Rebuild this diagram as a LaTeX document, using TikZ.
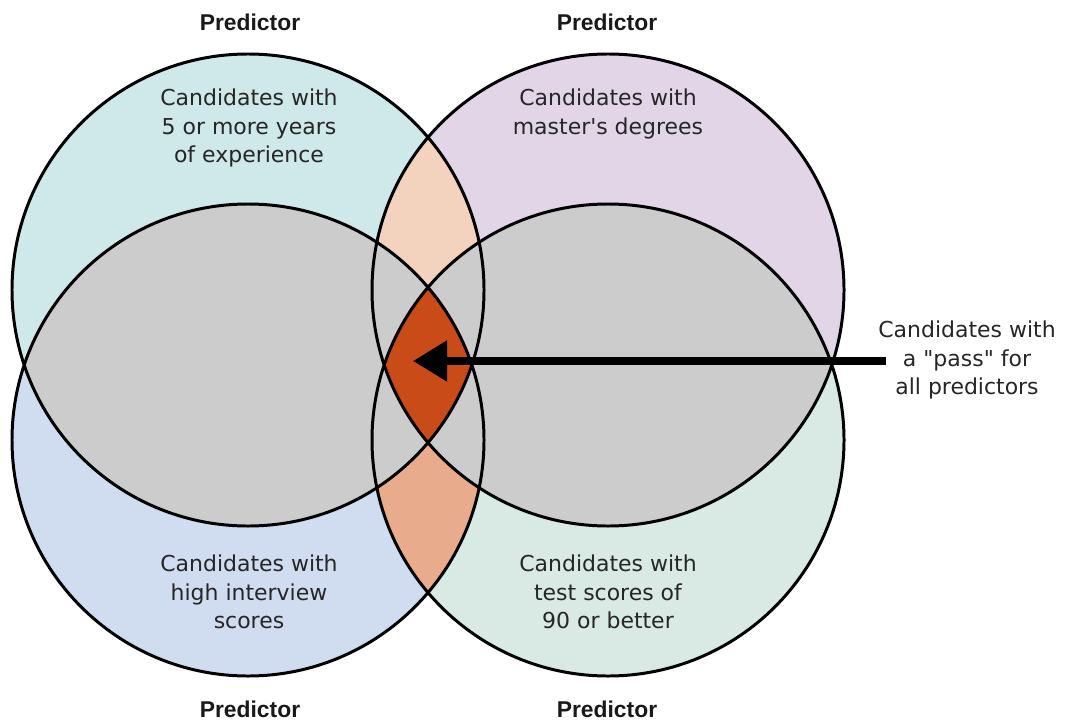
\documentclass[tikz,border=0pt]{standalone}
\usepackage{fontspec}
\setmainfont{DejaVu Sans}
\newfontfamily\headfont{Liberation Sans}
\usetikzlibrary{arrows.meta}
\definecolor{tealc}{HTML}{CFE8E9}
\definecolor{purplec}{HTML}{E3D5E8}
\definecolor{bluec}{HTML}{D0DCF0}
\definecolor{greenc}{HTML}{D9E9E3}
\definecolor{grayc}{HTML}{CCCCCC}
\definecolor{peachl}{HTML}{F4D3BE}
\definecolor{peachd}{HTML}{E8AC8C}
\definecolor{orangec}{HTML}{C84B18}
\newcommand\venrad{4.72}

\begin{document}
\begin{tikzpicture}[
        circ/.style={draw=black, line width=1.7pt},
        lbl/.style={align=center, text=black!85, font=\fontsize{12.5}{16.2}\selectfont},
        head/.style={text=black!90, inner sep=0.5pt, font=\headfont\bfseries\fontsize{13}{15}\selectfont},
        passarrow/.style={line width=4.5pt, -{Triangle[length=0.68cm,width=0.78cm]}},
    ]
    \useasboundingbox (0,0) rectangle (21.34,14.42);
    \coordinate (tl) at (4.96,8.62);
    \coordinate (tr) at (12.16,8.62);
    \coordinate (bl) at (4.96,5.62);
    \coordinate (br) at (12.16,5.62);
    \fill[tealc] (tl) circle (\venrad);
    \fill[purplec] (tr) circle (\venrad);
    \fill[bluec] (bl) circle (\venrad);
    \fill[greenc] (br) circle (\venrad);
    \begin{scope}
        \clip (tl) circle (\venrad);
        \fill[peachl] (tr) circle (\venrad);
    \end{scope}
    \begin{scope}
        \clip (bl) circle (\venrad);
        \fill[peachd] (br) circle (\venrad);
    \end{scope}
    \begin{scope}
        \clip (tl) circle (\venrad);
        \fill[grayc] (bl) circle (\venrad);
    \end{scope}
    \begin{scope}
        \clip (tr) circle (\venrad);
        \fill[grayc] (br) circle (\venrad);
    \end{scope}
    \begin{scope}
        \clip (tl) circle (\venrad);
        \clip (tr) circle (\venrad);
        \clip (bl) circle (\venrad);
        \fill[orangec] (br) circle (\venrad);
    \end{scope}
    \foreach \c in {tl,tr,bl,br}
        \draw[circ] (\c) circle (\venrad);

    \node[head](p1) at (5.0,13.98) {Predictor};
    \node[head](p2) at (12.14,13.98) {Predictor};
    \node[head](p3) at (5.0,0.24) {Predictor};
    \node[head](p4) at (12.14,0.24) {Predictor};

    \node[lbl](exper) at (4.98,11.86) {Candidates with\\5 or more years\\of experience};
    \node[lbl](master) at (12.16,12.14) {Candidates with\\master\textquotesingle s degrees};
    \node[lbl](interv) at (4.98,2.58) {Candidates with\\high interview\\scores};
    \node[lbl](tests) at (12.16,2.58) {Candidates with\\test scores of\\90 or better};
    \node[lbl, inner sep=0pt](pass) at (19.34,7.22) {Candidates with\\a \textquotedbl pass\textquotedbl{} for\\all predictors};

    \coordinate (tip) at (8.26,7.2);
    \draw[passarrow] ([xshift=0.16cm]pass.west |- tip) -- (tip);
\end{tikzpicture}
\end{document}
